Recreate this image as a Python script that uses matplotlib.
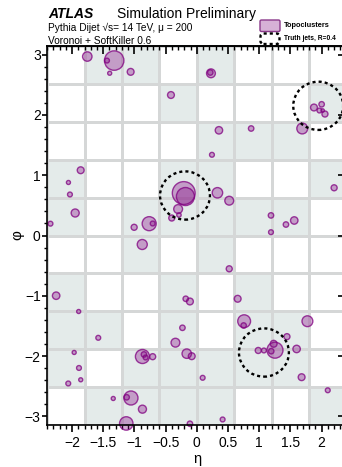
import numpy as np
import matplotlib
matplotlib.use("Agg")
import matplotlib.pyplot as plt
from matplotlib.patches import Circle, FancyBboxPatch
from matplotlib.ticker import MultipleLocator
from matplotlib.transforms import IdentityTransform
from matplotlib.colors import ListedColormap

plt.rcParams['font.family'] = ['Liberation Sans', 'DejaVu Sans']

# ---------------- data ----------------
cluster_eta = [-1.756, -1.325, -1.440, -1.397, -1.061, -0.415, -1.862, -2.058, -2.034, -1.950,
               -2.346, -1.005, -0.764, -0.708, -0.210, -0.183, -0.300, -0.402, -0.287, 0.226,
               0.215, 0.354, 0.870, 0.242, 1.689, 1.877, 2.000, 1.965, 2.053, 2.016,
               0.330, 0.519, 2.200, 1.188, 1.428, 1.561, 1.188, -0.875, -2.255, -1.894,
               -1.580, -0.231, -0.343, -0.178, -0.111, -1.966, -1.889, -1.861, -2.061, -0.872,
               -0.848, -0.821, -0.708, -0.162, -0.082, -1.340, -1.056, -1.125, -0.872, -1.131,
               -0.111, 0.519, 0.654, 0.758, 0.750, 1.772, 1.444, 1.252, 1.231, 1.192,
               1.075, 0.984, 1.599, 1.679, 0.093, 2.098, 0.413]
cluster_phi = [2.967, 2.900, 2.900, 2.690, 2.713, 2.329, 1.082, 0.879, 0.680, 0.373,
               0.196, 0.136, 0.196, 0.199, 0.704, 0.646, 0.439, 0.290, 0.340, 2.689,
               2.702, 1.744, 1.774, 1.338, 1.774, 2.122, 2.175, 2.072, 2.014, 2.072,
               0.708, 0.577, 0.791, 0.333, 0.182, 0.249, 0.055, -0.149, -0.998, -1.260,
               -1.696, -1.530, -1.777, -1.049, -1.094, -1.939, -2.196, -2.392, -2.453, -2.006,
               -1.972, -2.022, -2.009, -1.959, -2.001, -2.702, -2.694, -2.682, -2.879, -3.116,
               -3.121, -0.552, -1.049, -1.421, -1.492, -1.421, -1.677, -1.901, -1.795, -1.918,
               -1.906, -1.906, -1.881, -2.349, -2.359, -2.566, -3.050]
cluster_et = [5.0, 10.0, 2.7, 2.3, 3.7, 3.7, 3.7, 2.3, 2.7, 4.3,
              2.7, 3.3, 7.3, 2.7, 11.7, 9.3, 4.7, 3.3, 2.5, 4.7,
              3.0, 4.0, 3.0, 2.7, 5.7, 3.7, 3.0, 2.7, 3.3, 2.0,
              5.5, 4.7, 3.3, 3.0, 3.0, 4.0, 2.7, 5.3, 4.0, 2.3,
              2.7, 3.0, 4.7, 3.0, 3.7, 2.3, 2.7, 2.3, 2.7, 7.3,
              3.0, 2.7, 3.3, 5.0, 3.7, 2.3, 7.3, 3.0, 4.3, 7.0,
              3.0, 3.3, 3.7, 6.7, 3.0, 5.7, 3.3, 8.3, 3.7, 3.0,
              2.7, 3.3, 4.0, 3.7, 2.7, 2.7, 2.7]

jet_eta = [-0.19, 1.945, 1.075]
jet_phi = [0.663, 2.15, -1.94]
jet_R = 0.4

eta_edges = np.linspace(-2.4, 2.4, 9)
phi_edges = np.linspace(-np.pi, np.pi, 11)
# shaded grid cells, rows listed from top (phi=pi) to bottom
cell_rows_top_down = [
    [0, 1, 1, 0, 1, 0, 0, 0],
    [0, 0, 0, 1, 0, 0, 0, 1],
    [0, 0, 0, 0, 1, 1, 1, 0],
    [1, 0, 0, 1, 1, 0, 0, 1],
    [1, 0, 1, 1, 1, 1, 1, 0],
    [0, 0, 1, 0, 1, 0, 0, 0],
    [1, 0, 0, 1, 0, 1, 0, 0],
    [1, 1, 0, 1, 0, 1, 1, 0],
    [1, 0, 1, 1, 1, 1, 1, 0],
    [0, 1, 1, 1, 1, 0, 0, 1],
]
x_ticks = [-2, -1.5, -1, -0.5, 0, 0.5, 1, 1.5, 2]
x_ticklabels = ['\u22122', '\u22121.5', '\u22121', '\u22120.5', '0', '0.5', '1', '1.5', '2']
y_ticks = [-3, -2, -1, 0, 1, 2, 3]

# ---------------- figure ----------------
W, H = 342, 467
fig = plt.figure(figsize=(W / 100, H / 100), dpi=100)
ax = fig.add_axes([47.1 / W, 42 / H, 299.5 / W, 379 / H])

cmap = ListedColormap(['#ffffff', '#e4ebea'])
mask = np.array(cell_rows_top_down[::-1])
ax.pcolormesh(eta_edges, phi_edges, mask, cmap=cmap, vmin=0, vmax=1,
              edgecolors='#d5d7d7', linewidth=1.0, zorder=0)

sizes = (2 * np.array(cluster_et) * 0.72 - 0.4) ** 2
ax.scatter(cluster_eta, cluster_phi, s=sizes, facecolors=(0.5, 0.0, 0.5, 0.33),
           edgecolors=(0.5, 0.0, 0.5, 0.75), linewidths=1.0, zorder=2, clip_on=False)

for je, jp in zip(jet_eta, jet_phi):
    ax.add_patch(Circle((je, jp), jet_R, fill=False, ec='black', lw=1.7,
                        ls=(0, (1.3, 1.3)), zorder=3, clip_on=False))

ax.set_xlim(-2.4, 2.4)
ax.set_ylim(-np.pi, np.pi)
ax.set_xticks(x_ticks)
ax.set_xticklabels(x_ticklabels)
ax.set_yticks(y_ticks)
ax.xaxis.set_minor_locator(MultipleLocator(0.1))
ax.yaxis.set_minor_locator(MultipleLocator(0.2))
ax.tick_params(axis='x', which='major', direction='out', length=5, width=1.2,
               labelsize=10, pad=3, top=False)
ax.tick_params(axis='x', which='minor', direction='out', length=2.8, width=1.0, top=False)
ax.tick_params(axis='y', which='major', direction='out', length=3.6, width=1.2,
               labelsize=10, pad=1, right=False)
ax.tick_params(axis='y', which='minor', direction='out', length=2.5, width=1.0, right=False)
for sp in ax.spines.values():
    sp.set_linewidth(1.2)
    sp.set_zorder(5)

secx = ax.secondary_xaxis('top')
secx.set_xticks(x_ticks)
secx.xaxis.set_minor_locator(MultipleLocator(0.1))
secx.tick_params(which='major', direction='in', length=5.8, width=1.2, labeltop=False)
secx.tick_params(which='minor', direction='in', length=2.9, width=1.0)
secx.spines['top'].set_linewidth(1.2)

secy = ax.secondary_yaxis('right')
secy.set_yticks(y_ticks)
secy.yaxis.set_minor_locator(MultipleLocator(0.2))
secy.tick_params(which='major', direction='in', length=6.5, width=1.2, labelright=False)
secy.tick_params(which='minor', direction='in', length=2.5, width=1.0)
secy.spines['right'].set_linewidth(1.2)

ax.set_xlabel('η', fontsize=10.5)
ax.xaxis.set_label_coords(0.5, -0.07)
ax.set_ylabel('φ', fontsize=11, rotation=90, va='center', ha='center', rotation_mode='default')
ax.yaxis.set_label_coords(-0.1, 0.5)

# ---------------- header ----------------
def fx(px):
    return px / W

def fy(py):
    return 1 - py / H

fig.text(fx(48), fy(18), 'ATLAS', fontsize=10, fontweight='bold', fontstyle='italic')
fig.text(fx(116.5), fy(18), 'Simulation Preliminary', fontsize=10)
fig.text(fx(48), fy(31), 'Pythia Dijet √s= 14 TeV, μ = 200', fontsize=7.3)
fig.text(fx(48), fy(43.5), 'Voronoi + SoftKiller 0.6', fontsize=7.3)

# legend
fig.patches.append(FancyBboxPatch((260, H - 31.5), 20, 11.5,
                                  boxstyle='round,pad=0,rounding_size=1.5',
                                  transform=IdentityTransform(), fc='#d6b0d6',
                                  ec='#8b3a8b', lw=1.0, figure=fig))
fig.patches.append(FancyBboxPatch((260.5, H - 44), 19, 10.5,
                                  boxstyle='round,pad=0,rounding_size=3',
                                  transform=IdentityTransform(), fc='none',
                                  ec='black', lw=1.7, ls=(0, (1.3, 1.3)), figure=fig))
fig.text(fx(283.5), fy(25.5), 'Topoclusters', fontsize=5.3, fontweight='bold', va='center')
fig.text(fx(283.5), fy(38.5), 'Truth jets, R=0.4', fontsize=4.8, fontweight='bold', va='center')

fig.savefig('out.png', dpi=100)
